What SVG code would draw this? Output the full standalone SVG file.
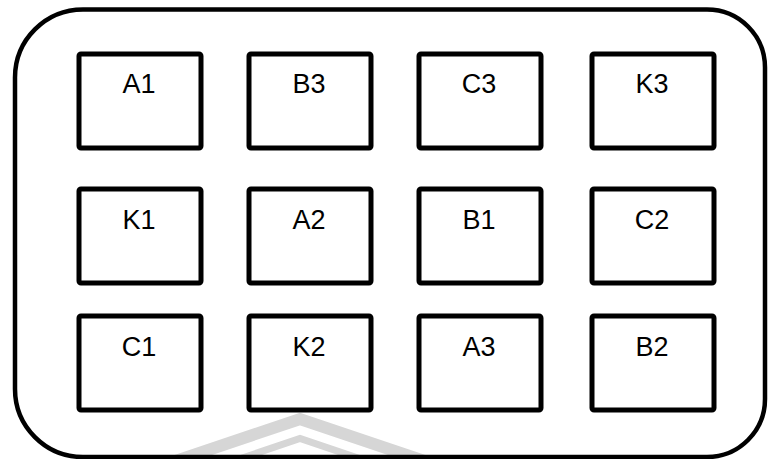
<svg xmlns="http://www.w3.org/2000/svg" width="768" height="459" viewBox="0 0 768 459">
<style>
.box{fill:#fff;stroke:#000;stroke-width:5;}
.lbl{font-family:"Liberation Sans",Arial,sans-serif;font-size:27px;fill:#000;text-anchor:middle;}
.wm{fill:none;stroke:#d6d6d6;stroke-linejoin:miter;}
</style>
<rect width="768" height="459" fill="#fff"/>
<g id="watermark">
<polyline class="wm" points="140,473 300,419 460,473" stroke-width="12"/>
<polyline class="wm" points="180,479 300,438.5 420,479" stroke-width="7"/>
</g>
<g id="frame">
<path d="M83,9.5 H707 A58,58 0 0 1 765,67.5 V399 A58,58 0 0 1 707,457 H83 A68,68 0 0 1 15,389 V77.5 A68,68 0 0 1 83,9.5 Z" fill="none" stroke="#000" stroke-width="4.5"/>
</g>
<g id="connectors"></g>
<g id="A1"><rect class="box" x="79" y="54" width="122" height="94" rx="2"/><text class="lbl" x="139" y="93">A1</text></g>
<g id="B3"><rect class="box" x="249" y="54" width="122" height="94" rx="2"/><text class="lbl" x="309" y="93">B3</text></g>
<g id="C3"><rect class="box" x="419" y="54" width="122" height="94" rx="2"/><text class="lbl" x="479" y="93">C3</text></g>
<g id="K3"><rect class="box" x="592" y="54" width="122" height="94" rx="2"/><text class="lbl" x="652" y="93">K3</text></g>
<g id="K1"><rect class="box" x="79" y="189" width="122" height="94" rx="2"/><text class="lbl" x="139" y="228.5">K1</text></g>
<g id="A2"><rect class="box" x="249" y="189" width="122" height="94" rx="2"/><text class="lbl" x="309" y="228.5">A2</text></g>
<g id="B1"><rect class="box" x="419" y="189" width="122" height="94" rx="2"/><text class="lbl" x="479" y="228.5">B1</text></g>
<g id="C2"><rect class="box" x="592" y="189" width="122" height="94" rx="2"/><text class="lbl" x="652" y="228.5">C2</text></g>
<g id="C1"><rect class="box" x="79" y="316" width="122" height="94" rx="2"/><text class="lbl" x="139" y="355.5">C1</text></g>
<g id="K2"><rect class="box" x="249" y="316" width="122" height="94" rx="2"/><text class="lbl" x="309" y="355.5">K2</text></g>
<g id="A3"><rect class="box" x="419" y="316" width="122" height="94" rx="2"/><text class="lbl" x="479" y="355.5">A3</text></g>
<g id="B2"><rect class="box" x="592" y="316" width="122" height="94" rx="2"/><text class="lbl" x="652" y="355.5">B2</text></g>
</svg>
